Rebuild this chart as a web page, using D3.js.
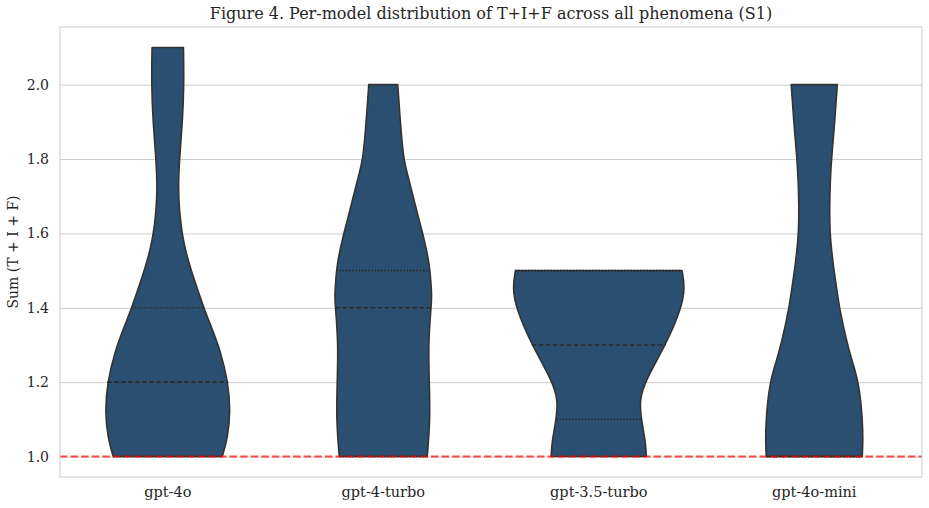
<!DOCTYPE html>
<html>
<head>
<meta charset="utf-8">
<script src="https://cdn.jsdelivr.net/npm/d3@7"></script>
<style>
  body { margin: 0; background: #fff; }
  text { font-family: "DejaVu Serif", serif; fill: #262626; }
</style>
</head>
<body>
<svg id="chart" width="929" height="508"></svg>
<script>
// models on the x axis
var models = ["gpt-4o", "gpt-4-turbo", "gpt-3.5-turbo", "gpt-4o-mini"];

// violin outlines: value levels and relative density (1 = widest violin)
var levels_4o     = [1.0, 1.05, 1.12, 1.2, 1.29, 1.34, 1.4, 1.466, 1.51, 1.555, 1.6, 1.644, 1.69, 1.736, 1.8, 1.9, 2.0, 2.1];
var density_4o    = [0.632, 0.696, 0.727, 0.702, 0.603, 0.52, 0.418, 0.321, 0.259, 0.205, 0.166, 0.143, 0.128, 0.124, 0.136, 0.171, 0.189, 0.182];

var levels_4t     = [1.0, 1.1, 1.2, 1.3, 1.4, 1.43, 1.5, 1.528, 1.582, 1.636, 1.69, 1.744, 1.798, 1.879, 1.933, 2.0];
var density_4t    = [0.51, 0.545, 0.534, 0.522, 0.553, 0.566, 0.542, 0.526, 0.478, 0.415, 0.357, 0.299, 0.235, 0.206, 0.188, 0.168];

var levels_35     = [1.0, 1.04, 1.1, 1.15, 1.2, 1.3, 1.4, 1.456, 1.5];
var density_35    = [0.552, 0.543, 0.493, 0.473, 0.531, 0.777, 0.963, 1.0, 0.966];

var levels_mini   = [1.0, 1.05, 1.1, 1.15, 1.2, 1.25, 1.3, 1.4, 1.466, 1.51, 1.555, 1.6, 1.67, 1.744, 1.8, 1.9, 2.0];
var density_mini  = [0.557, 0.566, 0.557, 0.54, 0.51, 0.45, 0.385, 0.29, 0.252, 0.223, 0.201, 0.182, 0.177, 0.186, 0.2, 0.238, 0.267];

var profiles = [
  { levels: levels_4o, density: density_4o },
  { levels: levels_4t, density: density_4t },
  { levels: levels_35, density: density_35 },
  { levels: levels_mini, density: density_mini }
];

// inner quartile lines
var q1      = [1.0, 1.0, 1.1, 1.0];
var medians = [1.2, 1.4, 1.3, 1.0];
var q3      = [1.4, 1.5, 1.5, 1.0];

var yTicks = [1.0, 1.2, 1.4, 1.6, 1.8, 2.0];
var refLine = 1.0;

// layout
var margin = { left: 60, right: 7, top: 27, bottom: 31 };
var W = 929, H = 508;
var width = W - margin.left - margin.right;
var height = H - margin.top - margin.bottom;

var svg = d3.select("#chart");
var g = svg.append("g").attr("transform", "translate(" + margin.left + "," + margin.top + ")");

var x = d3.scaleBand().domain(models).range([0, width]).padding(0);
var y = d3.scaleLinear().domain([0.945, 2.155]).range([height, 0]);
var halfW = x.bandwidth() * 0.4;

// grid + y labels
var yAxis = d3.axisLeft(y).tickValues(yTicks).tickFormat(d3.format(".1f"))
  .tickSizeInner(-width).tickSizeOuter(0).tickPadding(11);
g.append("g").attr("class", "yaxis").call(yAxis)
  .call(function(s) {
    s.select(".domain").remove();
    s.selectAll("line").attr("stroke", "#cccccc").attr("stroke-width", 1);
    s.selectAll("text").style("font-size", "14px").attr("fill", "#262626");
  });

var xAxis = d3.axisBottom(x).tickSize(0).tickPadding(10);
g.append("g").attr("transform", "translate(0," + height + ")").call(xAxis)
  .call(function(s) {
    s.select(".domain").remove();
    s.selectAll("text").style("font-size", "14.5px").attr("fill", "#262626");
  });

// violins
var area = d3.area()
  .curve(d3.curveBasis)
  .y(function(d) { return y(d[0]); });

models.forEach(function(m, i) {
  var p = profiles[i];
  var cx = x(m) + x.bandwidth() / 2;
  var pts = p.levels.map(function(v, j) { return [v, p.density[j]]; });
  area.x0(function(d) { return cx - d[1] * halfW; })
      .x1(function(d) { return cx + d[1] * halfW; });
  g.append("path")
    .attr("d", area(pts))
    .attr("fill", "#2b4f70")
    .attr("stroke", "#333333")
    .attr("stroke-width", 1.6)
    .attr("stroke-linejoin", "round");

  var wAt = d3.scaleLinear().domain(p.levels).range(p.density);
  function inner(v, dash) {
    var w = wAt(v) * halfW;
    g.append("line")
      .attr("x1", cx - w).attr("x2", cx + w)
      .attr("y1", y(v)).attr("y2", y(v))
      .attr("stroke", "#2a2a2a")
      .attr("stroke-width", 1.6)
      .attr("stroke-dasharray", dash);
  }
  inner(q1[i], "1.4,1.8");
  inner(q3[i], "1.4,1.8");
  inner(medians[i], "4.5,2.5");
});

// reference line
g.append("line")
  .attr("x1", 0).attr("x2", width)
  .attr("y1", y(refLine)).attr("y2", y(refLine))
  .attr("stroke", "red").attr("stroke-opacity", 0.7)
  .attr("stroke-width", 2).attr("stroke-dasharray", "7.4,3.2");

// frame
g.append("rect").attr("width", width).attr("height", height)
  .attr("fill", "none").attr("stroke", "#cccccc").attr("stroke-width", 1);

// title and y label
svg.append("text")
  .attr("x", margin.left + width / 2).attr("y", 19)
  .attr("text-anchor", "middle").style("font-size", "16px")
  .text("Figure 4. Per-model distribution of T+I+F across all phenomena (S1)");

svg.append("text")
  .attr("transform", "translate(18," + (margin.top + height / 2) + ") rotate(-90)")
  .attr("text-anchor", "middle").style("font-size", "14px")
  .text("Sum (T + I + F)");
</script>
</body>
</html>
